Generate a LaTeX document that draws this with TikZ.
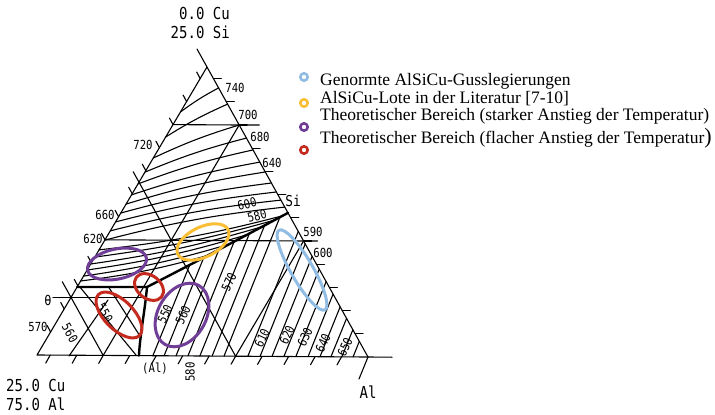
\documentclass[tikz,border=0pt]{standalone}
\usepackage{fontspec}
\setmainfont{Liberation Serif}
\newfontfamily\plotfont[FakeStretch=0.85]{DejaVu Sans Mono}
\usetikzlibrary{calc}
\definecolor{gussblau}{RGB}{145,188,228}
\definecolor{lotgelb}{RGB}{249,190,52}
\definecolor{steillila}{RGB}{112,62,150}
\definecolor{flachrot}{RGB}{196,42,30}

\begin{document}
\begin{tikzpicture}[x=1pt,y=-1pt,line cap=round,line join=round,
    linie/.style={line width=1.1pt},
    rinne/.style={line width=2.4pt},
    bereich/.style={line width=3pt},
    zahl/.style={font={\plotfont\fontsize{12.5}{13}\selectfont},inner sep=0pt},
    ecke/.style={font={\plotfont\fontsize{16.5}{19}\selectfont},inner sep=0pt},
    legende/.style={font={\fontsize{17.5}{19}\selectfont},anchor=base west,inner sep=0pt}]
  \fill[white] (0,0) rectangle (715,415);
  \useasboundingbox (0,0) rectangle (715,415);

  % Ecken und Rinnenpunkte
  \coordinate (L) at (37,355);
  \coordinate (R) at (368,357);
  \coordinate (T) at (207,67);
  \coordinate (S) at ($(R)!0.497!(T)$);
  \coordinate (E) at (147,287);
  \coordinate (V) at ($(L)!0.236!(T)$);
  \coordinate (B) at ($(L)!0.308!(R)$);

  % Rand und Skalenstriche
  \draw[linie] (197,49) -- (R) -- (392,357.2);
  \draw[linie] (T) -- (L) -- (R);
  \draw[linie] (R) -- ++(-9,22);
  \foreach \i in {1,...,12} {
    \draw[linie] ($(R)!{\i/12.5}!(T)$) -- ++(8,0);
    \draw[linie] ($(R)!{\i/12.5}!(L)$) -- ++(-4.5,8);
    \draw[linie] ($(L)!{\i/12.5}!(T)$) -- ++(-3.5,-6.5);
  }

  % Hilfslinien
  \coordinate (c10u) at ($(R)!0.4!(L)$);
  \coordinate (c10o) at ($(L)!0.6!(T)$);
  \coordinate (c20u) at ($(R)!0.8!(L)$);
  \coordinate (c20o) at ($(L)!0.2!(T)$);
  \draw[linie] ($(L)!0.8!(T)$) -- ($(R)!0.8!(T)$) -- ++(20,0);
  \draw[linie] ($(L)!0.4!(T)$) -- ($(R)!0.4!(T)$) -- ++(14,0);
  \draw[linie] (c20o) ++(-18,0) -- ++(89,0);
  \draw[linie] (c10u) -- ($(c10u)!1.06!(c10o)$);
  \draw[linie] (c20u) -- ($(c20u)!1.27!(c20o)$);
  \draw[linie] ($(R)!0.8!(T)$) -- (c20u);
  \draw[linie] ($(R)!0.4!(T)$) -- (c10u);

  % Isothermen Si
  \foreach \l/\r in {0.844/0.928,0.757/0.872,0.684/0.8,0.635/0.755,0.594/0.714,0.556/0.672,0.524/0.638,0.493/0.6,0.462/0.569,0.431/0.541,0.399/0.517}
    \draw[linie] ($(L)!\l!(T)$) to[bend left=4] ($(R)!\r!(T)$);
  \foreach \l/\t in {0.365/0.04,0.34/0.1,0.316/0.19,0.295/0.3,0.274/0.43,0.257/0.58}
    \draw[linie] ($(L)!\l!(T)$) to[bend right=4] ($(S)!\t!(E)$);

  % Isothermen Al
  \foreach \u/\o in {0.955/0.054,0.921/0.094,0.888/0.133,0.855/0.173,0.819/0.217,0.782/0.26,0.746/0.303,0.71/0.347,0.674/0.39,0.637/0.433}
    \draw[linie] ($(L)!\u!(R)$) -- ($(R)!\o!(T)$);
  \foreach \u/\t in {0.565/0.057,0.529/0.165,0.492/0.272,0.456/0.38,0.42/0.488,0.384/0.596,0.35/0.695}
    \draw[linie] ($(L)!\u!(R)$) -- ($(S)!\t!(E)$);

  % Isothermen theta
  \draw[linie] ($(V)!0.04!(E)$) -- (136,355);
  \draw[linie] ($(V)!0.45!(E)$) -- (140,336);
  \draw[linie] (69,356) -- (108,300);

  % Rinnen
  \draw[rinne] (S) .. controls (245,236) and (190,265) .. (E);
  \draw[rinne] (V) -- (E);
  \draw[rinne] (E) .. controls (145,310) and (140,335) .. (B);

  % Beschriftung
  \node[zahl] (t740) at (235,88) {740};
  \node[zahl] (t700) at (248,115) {700};
  \node[zahl] (t680) at (260,137) {680};
  \node[zahl] (t640) at (272,163) {640};
  \node[zahl] (t720) at (143,145) {720};
  \node[zahl] (t660) at (105,215) {660};
  \node[zahl] (t620) at (93,239) {620};
  \node[zahl, rotate=15] (t600) at (247,204) {600};
  \node[zahl, rotate=15] (t580) at (257,216) {580};
  \node[zahl] (t590r) at (313,232) {590};
  \node[zahl] (t600r) at (323,253) {600};
  \node[zahl, rotate=65] (t570) at (229,282) {570};
  \node[zahl, rotate=65] (t550) at (165,314) {550};
  \node[zahl, rotate=65] (t560) at (183,315) {560};
  \node[zahl, rotate=65] (t610) at (262,338) {610};
  \node[zahl, rotate=65] (t620u) at (287,335) {620};
  \node[zahl, rotate=65] (t630) at (305,337) {630};
  \node[zahl, rotate=65] (t640u) at (323,343) {640};
  \node[zahl, rotate=65] (t650) at (345,347) {650};
  \node[zahl, rotate=-60] (t550l) at (105,313) {550};
  \node[zahl, rotate=-60] (t560l) at (70,333) {560};
  \node[zahl] (t570l) at (38,327) {570};
  \node[zahl, rotate=90] (t580u) at (190,372) {580};
  \node[zahl] (alfest) at (155,369) {(Al)};
  \node[zahl, font={\plotfont\fontsize{14}{14}\selectfont}] (theta) at (48,300) {θ};
  \node[zahl, font={\plotfont\fontsize{15}{15}\selectfont}] (si) at (293,201) {Si};
  \node[ecke, anchor=east] (cu0) at (230,13) {0.0 Cu};
  \node[ecke, anchor=east] (si25) at (230,32) {25.0 Si};
  \node[ecke, anchor=west] (cu25) at (6,385) {25.0 Cu};
  \node[ecke, anchor=west] (al75) at (6,404) {75.0 Al};
  \node[ecke] (al) at (368,392) {Al};

  % Bereiche
  \draw[bereich, gussblau, rotate around={-60:(302,270)}] (302,270) ellipse (46pt and 11pt);
  \draw[bereich, lotgelb, rotate around={26:(203,242)}] (203,242) ellipse (28pt and 15pt);
  \draw[bereich, steillila, rotate around={12:(117,264)}] (117,264) ellipse (30pt and 15pt);
  \draw[bereich, steillila, rotate around={60:(182,315)}] (182,315) ellipse (34pt and 24pt);
  \draw[bereich, flachrot, rotate around={-38:(149,287)}] (149,287) ellipse (16pt and 11.5pt);
  \draw[bereich, flachrot, rotate around={-45:(119,315)}] (119,315) ellipse (29pt and 14.5pt);

  % Legende
  \draw[line width=2.6pt, gussblau] (304,77) circle (3.7pt);
  \draw[line width=2.6pt, lotgelb] (304,103) circle (3.7pt);
  \draw[line width=2.6pt, steillila] (304,127) circle (3.7pt);
  \draw[line width=2.6pt, flachrot] (304,150) circle (3.7pt);
  \node[legende] (leg1) at (320,85) {Genormte AlSiCu-Gusslegierungen};
  \node[legende] (leg2) at (320,103) {AlSiCu-Lote in der Literatur [7-10]};
  \node[legende] (leg3) at (320,120) {Theoretischer Bereich (starker Anstieg der Temperatur)};
  \node[legende] (leg4) at (320,143) {Theoretischer Bereich (flacher Anstieg der Temperatur{\fontsize{22}{22}\selectfont)}};
\end{tikzpicture}
\end{document}
